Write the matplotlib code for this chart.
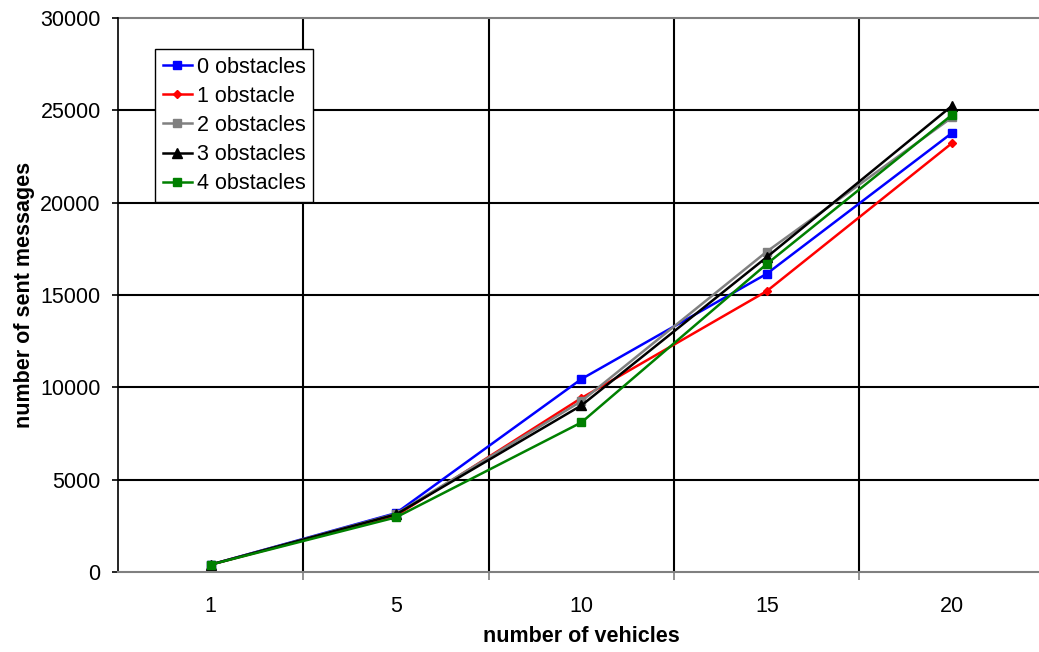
import numpy as np
import matplotlib.pyplot as plt

plt.rcParams['font.family'] = ['Liberation Sans', 'DejaVu Sans']

vehicles = ['1', '5', '10', '15', '20']
obst0 = [400, 3190, 10450, 16150, 23780]
obst1 = [400, 3050, 9420, 15210, 23230]
obst2 = [400, 3150, 9250, 17350, 24620]
obst3 = [400, 3120, 9020, 17050, 25250]
obst4 = [400, 2960, 8100, 16680, 24760]

series = [
    ('0 obstacles', obst0, '#0000ff', 's', 6),
    ('1 obstacle', obst1, '#ff0000', 'D', 4),
    ('2 obstacles', obst2, '#808080', 's', 6),
    ('3 obstacles', obst3, '#000000', '^', 6.5),
    ('4 obstacles', obst4, '#008000', 's', 6),
]

fig = plt.figure(figsize=(10.39, 6.52), dpi=100)
ax = fig.add_axes([0.1136, 0.1227, 0.892, 0.8497])

x = np.arange(len(vehicles))
for name, vals, col, mk, ms in series:
    ax.plot(x, vals, color=col, marker=mk, markersize=ms, lw=1.8, label=name)

ax.set_xlim(-0.5, len(vehicles) - 0.5)
ax.set_ylim(0, 30000)
ax.set_yticks(np.arange(0, 30001, 5000))
ax.set_xticks(x)
ax.set_xticklabels(vehicles)
ax.set_xticks(np.arange(0.5, len(vehicles) - 1, 1.0), minor=True)

# grid: black lines between categories and at each 5000
for b in np.arange(0.5, len(vehicles) - 1, 1.0):
    ax.axvline(b, color='black', lw=1.5, zorder=0)
for v in range(5000, 30000, 5000):
    ax.axhline(v, color='black', lw=1.5, zorder=0)
ax.axhline(30000, color='#808080', lw=1.5, clip_on=False, zorder=0)

for s in ['top', 'right']:
    ax.spines[s].set_visible(False)
ax.spines['left'].set_color('black')
ax.spines['left'].set_linewidth(1.2)
ax.spines['bottom'].set_color('#808080')
ax.spines['bottom'].set_linewidth(1.5)

ax.tick_params(axis='x', which='major', length=0, labelsize=15.5, pad=17)
ax.tick_params(axis='x', which='minor', length=6, color='#808080', width=1.2)
ax.tick_params(axis='y', length=4.5, width=1.2, labelsize=15.5, pad=8)

ax.set_xlabel('number of vehicles', fontsize=15.5, fontweight='bold', labelpad=7)
ax.set_ylabel('number of sent messages', fontsize=15.5, fontweight='bold', labelpad=4)

leg = ax.legend(loc='upper left', bbox_to_anchor=(0.04, 0.944), fontsize=15.5,
                frameon=True, fancybox=False, edgecolor='black', framealpha=1,
                handlelength=1.35, handletextpad=0.25, borderpad=0.35,
                labelspacing=0.38, borderaxespad=0)
leg.get_frame().set_linewidth(1.0)

fig.savefig('out.png', dpi=100)
